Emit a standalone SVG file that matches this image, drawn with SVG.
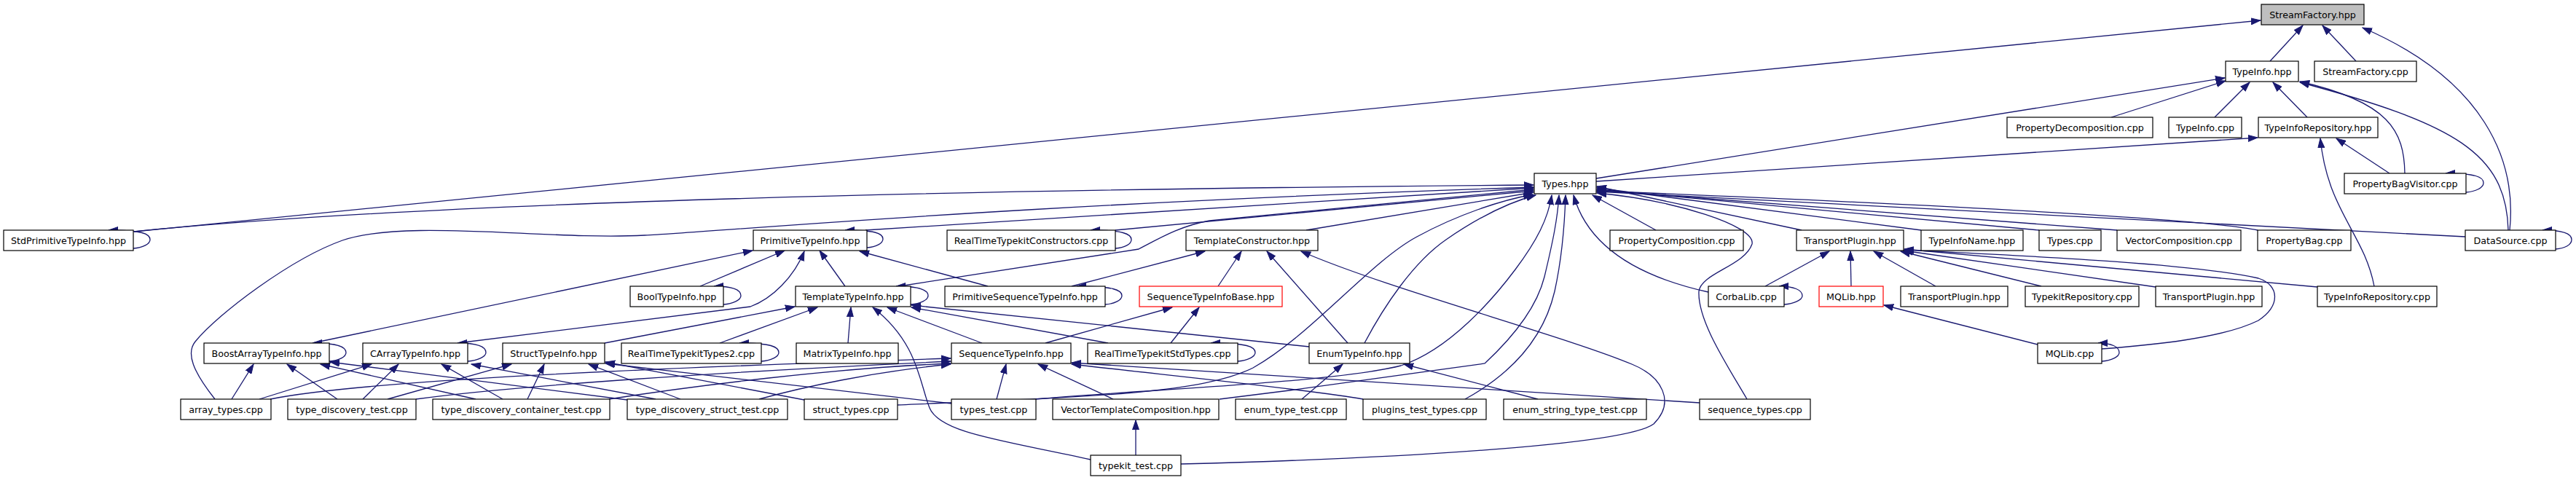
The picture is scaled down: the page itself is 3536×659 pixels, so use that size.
<svg xmlns="http://www.w3.org/2000/svg" width="3536" height="659" viewBox="0 0 3536 659">
<style>
.n rect{fill:#fff;stroke:#000;stroke-width:1.2}
.n.root rect{fill:#bfbfbf}
.n.red rect{stroke:#ff0000}
.n text{font-family:"DejaVu Sans",sans-serif;font-size:12.7px;fill:#000;text-anchor:middle}
.e path{fill:none;stroke:#191970;stroke-width:1.3;marker-end:url(#ah)}
</style>
<defs>
<marker id="ah" markerUnits="userSpaceOnUse" markerWidth="14" markerHeight="10" viewBox="0 0 14 10" refX="13" refY="5" orient="auto">
<path d="M0,0.5 L13,5 L0,9.5 z" fill="#191970" stroke="#191970" stroke-width="1"/>
</marker>
</defs>
<rect width="3536" height="659" fill="#fff"/>
<g id="edges" class="e">
<path d="M3116,84 L3161,35"/>
<path d="M3234,84 L3188,35"/>
<path d="M3445,316 C3455,220 3410,110 3243,38"/>
<path d="M184,318 L3103,28"/>
<path d="M2191,245 L3054,107"/>
<path d="M2898,161 L3055,111"/>
<path d="M3040,161 L3088,113"/>
<path d="M3167,161 L3120,113"/>
<path d="M3301,238 C3300,180 3280,140 3157,112"/>
<path d="M3443,316 C3440,210 3370,170 3157,113"/>
<path d="M2191,249 L3099,189"/>
<path d="M3280,238 L3207,190"/>
<path d="M3259,393 C3245,320 3195,290 3185,190"/>
<path d="M3385,264 C3398,263 3409,258 3409,251 C3409,243 3398,238 3357,238"/>
<path d="M3508,342 C3521,341 3530,336 3530,329 C3530,321 3520,316 3490,316"/>
<path d="M184,318 Q700,265 2105,254"/>
<path d="M295,548 C265,510 255,485 268,469 C300,430 400,355 470,330 C560,300 750,330 885,323 C1000,317 1400,280 2105,257"/>
<path d="M1188,316 L2105,258"/>
<path d="M1234,393 L1563,342 C1590,328 1620,310 1660,303 L2105,260"/>
<path d="M1531,316 L2105,262"/>
<path d="M1793,316 L2105,264"/>
<path d="M1232,556 C1500,545 1650,540 1720,505 C1800,460 1880,360 1945,325 C2000,295 2060,275 2104,267"/>
<path d="M1873,471 C1900,420 1940,360 1985,329 C2030,298 2070,278 2108,268"/>
<path d="M1421,548 C1600,533 1830,525 1923,502 C1990,480 2050,410 2080,370 C2110,330 2125,300 2130,268"/>
<path d="M1674,548 L1770,536 L2038,499 C2080,460 2110,420 2120,380 C2132,330 2138,300 2140,268"/>
<path d="M2011,548 C2080,510 2120,460 2134,400 C2145,350 2148,300 2149,268"/>
<path d="M2345,401 C2250,380 2180,340 2160,268"/>
<path d="M2273,316 L2186,268"/>
<path d="M2473,316 L2192,256"/>
<path d="M2637,316 L2192,258"/>
<path d="M2799,316 L2192,260"/>
<path d="M2906,316 L2192,261"/>
<path d="M3099,316 Q3000,295 2192,262"/>
<path d="M3384,325 L2192,263"/>
<path d="M2398,548 C2370,500 2330,440 2332,400 C2335,375 2395,365 2405,335 C2410,310 2300,275 2192,265"/>
<path d="M1190,340 C1203,339 1212,334 1212,328 C1212,320 1200,316 1160,316"/>
<path d="M429,471 L1033,344"/>
<path d="M961,393 L1077,344"/>
<path d="M628,471 L1030,421 C1060,410 1090,380 1104,345"/>
<path d="M1160,393 L1125,344"/>
<path d="M1356,393 L1180,345"/>
<path d="M993,418 C1006,417 1017,412 1017,406 C1017,398 1006,393 980,393"/>
<path d="M1250,418 C1263,417 1274,412 1274,406 C1274,398 1262,393 1230,393"/>
<path d="M1517,418 C1530,417 1540,412 1540,406 C1540,398 1528,393 1478,393"/>
<path d="M1531,341 C1544,340 1553,335 1553,329 C1553,321 1541,316 1497,316"/>
<path d="M2449,418 C2462,417 2474,412 2474,406 C2474,398 2462,393 2442,393"/>
<path d="M452,496 C465,495 475,490 475,484 C475,476 464,471 429,471"/>
<path d="M642,496 C655,495 667,490 667,484 C667,476 656,471 628,471"/>
<path d="M1045,496 C1058,495 1069,490 1069,484 C1069,476 1058,471 1015,471"/>
<path d="M1699,496 C1712,495 1723,490 1723,484 C1723,476 1712,471 1662,471"/>
<path d="M2885,496 C2898,495 2909,490 2909,484 C2909,476 2898,471 2880,471"/>
<path d="M183,341 C196,340 206,335 206,329 C206,321 195,316 149,316"/>
<path d="M1471,393 L1654,345"/>
<path d="M1672,393 L1704,345"/>
<path d="M1850,471 L1739,345"/>
<path d="M1621,637 C1900,630 2230,612 2270,582 C2300,552 2282,517 2240,500 C2150,462 1900,395 1786,345"/>
<path d="M1435,471 L1609,422"/>
<path d="M1607,471 L1646,422"/>
<path d="M830,471 L1091,421"/>
<path d="M988,471 L1122,422"/>
<path d="M1164,471 L1168,422"/>
<path d="M1348,471 L1218,422"/>
<path d="M1521,471 L1251,422"/>
<path d="M1797,476 L1251,419"/>
<path d="M1497,631 C1380,605 1290,595 1276,560 C1262,525 1260,470 1198,422"/>
<path d="M1787,548 L1843,500"/>
<path d="M2111,548 L1927,500"/>
<path d="M1368,548 L1381,500"/>
<path d="M1528,548 L1425,500"/>
<path d="M2333,553 C2000,530 1700,515 1471,498"/>
<path d="M1871,548 C1800,535 1600,515 1471,500"/>
<path d="M371,548 C500,522 900,505 1305,492"/>
<path d="M571,548 C700,530 1000,510 1305,496"/>
<path d="M836,548 C950,530 1150,505 1305,499"/>
<path d="M1042,548 C1100,532 1200,510 1305,500"/>
<path d="M1559,625 L1559,577"/>
<path d="M318,548 L348,500"/>
<path d="M463,548 L394,500"/>
<path d="M653,548 L440,500"/>
<path d="M861,549 L453,497"/>
<path d="M356,548 L510,500"/>
<path d="M498,548 L547,500"/>
<path d="M690,548 L606,500"/>
<path d="M900,548 L647,500"/>
<path d="M532,548 L702,500"/>
<path d="M724,548 L747,500"/>
<path d="M934,548 L808,500"/>
<path d="M1104,549 L831,497"/>
<path d="M1306,554 L831,499"/>
<path d="M2797,473 L2586,419"/>
<path d="M2423,393 L2511,345"/>
<path d="M2541,393 L2540,345"/>
<path d="M2657,393 L2572,345"/>
<path d="M2802,393 L2609,345"/>
<path d="M2959,394 L2613,344"/>
<path d="M3181,394 L2614,342"/>
<path d="M2885,479 C2950,474 3050,465 3100,440 C3130,420 3130,392 3100,382 C3000,360 2750,350 2614,343"/>
</g>
<g id="n_StreamFactory_hpp" class="n root"><rect x="3104" y="6" width="141" height="28"/><text x="3174.5" y="25">StreamFactory.hpp</text></g>
<g id="n_TypeInfo_hpp" class="n"><rect x="3055" y="84" width="100" height="28"/><text x="3105" y="103">TypeInfo.hpp</text></g>
<g id="n_StreamFactory_cpp" class="n"><rect x="3177" y="84" width="140" height="28"/><text x="3247" y="103">StreamFactory.cpp</text></g>
<g id="n_PropertyDecomposition_cpp" class="n"><rect x="2755" y="161" width="200" height="28"/><text x="2855" y="180">PropertyDecomposition.cpp</text></g>
<g id="n_TypeInfo_cpp" class="n"><rect x="2977" y="161" width="100" height="28"/><text x="3027" y="180">TypeInfo.cpp</text></g>
<g id="n_TypeInfoRepository_hpp" class="n"><rect x="3100" y="161" width="164" height="28"/><text x="3182" y="180">TypeInfoRepository.hpp</text></g>
<g id="n_Types_hpp" class="n"><rect x="2106" y="238" width="85" height="28"/><text x="2148.5" y="257">Types.hpp</text></g>
<g id="n_PropertyBagVisitor_cpp" class="n"><rect x="3218" y="238" width="167" height="28"/><text x="3301.5" y="257">PropertyBagVisitor.cpp</text></g>
<g id="n_StdPrimitiveTypeInfo_hpp" class="n"><rect x="5" y="316" width="178" height="28"/><text x="94" y="335">StdPrimitiveTypeInfo.hpp</text></g>
<g id="n_PrimitiveTypeInfo_hpp" class="n"><rect x="1034" y="316" width="156" height="28"/><text x="1112" y="335">PrimitiveTypeInfo.hpp</text></g>
<g id="n_RealTimeTypekitConstructors_cpp" class="n"><rect x="1300" y="316" width="231" height="28"/><text x="1415.5" y="335">RealTimeTypekitConstructors.cpp</text></g>
<g id="n_TemplateConstructor_hpp" class="n"><rect x="1628" y="316" width="181" height="28"/><text x="1718.5" y="335">TemplateConstructor.hpp</text></g>
<g id="n_PropertyComposition_cpp" class="n"><rect x="2210" y="316" width="183" height="28"/><text x="2301.5" y="335">PropertyComposition.cpp</text></g>
<g id="n_TransportPlugin_hpp_1" class="n"><rect x="2466" y="316" width="147" height="28"/><text x="2539.5" y="335">TransportPlugin.hpp</text></g>
<g id="n_TypeInfoName_hpp" class="n"><rect x="2637" y="316" width="140" height="28"/><text x="2707" y="335">TypeInfoName.hpp</text></g>
<g id="n_Types_cpp" class="n"><rect x="2799" y="316" width="85" height="28"/><text x="2841.5" y="335">Types.cpp</text></g>
<g id="n_VectorComposition_cpp" class="n"><rect x="2906" y="316" width="170" height="28"/><text x="2991" y="335">VectorComposition.cpp</text></g>
<g id="n_PropertyBag_cpp" class="n"><rect x="3099" y="316" width="128" height="28"/><text x="3163" y="335">PropertyBag.cpp</text></g>
<g id="n_DataSource_cpp" class="n"><rect x="3384" y="316" width="124" height="28"/><text x="3446" y="335">DataSource.cpp</text></g>
<g id="n_BoolTypeInfo_hpp" class="n"><rect x="865" y="393" width="128" height="28"/><text x="929" y="412">BoolTypeInfo.hpp</text></g>
<g id="n_TemplateTypeInfo_hpp" class="n"><rect x="1092" y="393" width="158" height="28"/><text x="1171" y="412">TemplateTypeInfo.hpp</text></g>
<g id="n_PrimitiveSequenceTypeInfo_hpp" class="n"><rect x="1297" y="393" width="220" height="28"/><text x="1407" y="412">PrimitiveSequenceTypeInfo.hpp</text></g>
<g id="n_SequenceTypeInfoBase_hpp" class="n red"><rect x="1564" y="393" width="196" height="28"/><text x="1662" y="412">SequenceTypeInfoBase.hpp</text></g>
<g id="n_CorbaLib_cpp" class="n"><rect x="2345" y="393" width="104" height="28"/><text x="2397" y="412">CorbaLib.cpp</text></g>
<g id="n_MQLib_hpp" class="n red"><rect x="2497" y="393" width="88" height="28"/><text x="2541" y="412">MQLib.hpp</text></g>
<g id="n_TransportPlugin_hpp_2" class="n"><rect x="2609" y="393" width="147" height="28"/><text x="2682.5" y="412">TransportPlugin.hpp</text></g>
<g id="n_TypekitRepository_cpp" class="n"><rect x="2780" y="393" width="156" height="28"/><text x="2858" y="412">TypekitRepository.cpp</text></g>
<g id="n_TransportPlugin_hpp_3" class="n"><rect x="2959" y="393" width="146" height="28"/><text x="3032" y="412">TransportPlugin.hpp</text></g>
<g id="n_TypeInfoRepository_cpp" class="n"><rect x="3181" y="393" width="164" height="28"/><text x="3263" y="412">TypeInfoRepository.cpp</text></g>
<g id="n_BoostArrayTypeInfo_hpp" class="n"><rect x="280" y="471" width="172" height="28"/><text x="366" y="490">BoostArrayTypeInfo.hpp</text></g>
<g id="n_CArrayTypeInfo_hpp" class="n"><rect x="498" y="471" width="144" height="28"/><text x="570" y="490">CArrayTypeInfo.hpp</text></g>
<g id="n_StructTypeInfo_hpp" class="n"><rect x="690" y="471" width="140" height="28"/><text x="760" y="490">StructTypeInfo.hpp</text></g>
<g id="n_RealTimeTypekitTypes2_cpp" class="n"><rect x="853" y="471" width="192" height="28"/><text x="949" y="490">RealTimeTypekitTypes2.cpp</text></g>
<g id="n_MatrixTypeInfo_hpp" class="n"><rect x="1093" y="471" width="140" height="28"/><text x="1163" y="490">MatrixTypeInfo.hpp</text></g>
<g id="n_SequenceTypeInfo_hpp" class="n"><rect x="1306" y="471" width="164" height="28"/><text x="1388" y="490">SequenceTypeInfo.hpp</text></g>
<g id="n_RealTimeTypekitStdTypes_cpp" class="n"><rect x="1493" y="471" width="206" height="28"/><text x="1596" y="490">RealTimeTypekitStdTypes.cpp</text></g>
<g id="n_EnumTypeInfo_hpp" class="n"><rect x="1797" y="471" width="138" height="28"/><text x="1866" y="490">EnumTypeInfo.hpp</text></g>
<g id="n_MQLib_cpp" class="n"><rect x="2797" y="471" width="88" height="28"/><text x="2841" y="490">MQLib.cpp</text></g>
<g id="n_array_types_cpp" class="n"><rect x="248" y="548" width="124" height="28"/><text x="310" y="567">array_types.cpp</text></g>
<g id="n_type_discovery_test_cpp" class="n"><rect x="395" y="548" width="176" height="28"/><text x="483" y="567">type_discovery_test.cpp</text></g>
<g id="n_type_discovery_container_test_cpp" class="n"><rect x="594" y="548" width="243" height="28"/><text x="715.5" y="567">type_discovery_container_test.cpp</text></g>
<g id="n_type_discovery_struct_test_cpp" class="n"><rect x="861" y="548" width="220" height="28"/><text x="971" y="567">type_discovery_struct_test.cpp</text></g>
<g id="n_struct_types_cpp" class="n"><rect x="1104" y="548" width="128" height="28"/><text x="1168" y="567">struct_types.cpp</text></g>
<g id="n_types_test_cpp" class="n"><rect x="1306" y="548" width="116" height="28"/><text x="1364" y="567">types_test.cpp</text></g>
<g id="n_VectorTemplateComposition_hpp" class="n"><rect x="1445" y="548" width="228" height="28"/><text x="1559" y="567">VectorTemplateComposition.hpp</text></g>
<g id="n_enum_type_test_cpp" class="n"><rect x="1696" y="548" width="152" height="28"/><text x="1772" y="567">enum_type_test.cpp</text></g>
<g id="n_plugins_test_types_cpp" class="n"><rect x="1871" y="548" width="169" height="28"/><text x="1955.5" y="567">plugins_test_types.cpp</text></g>
<g id="n_enum_string_type_test_cpp" class="n"><rect x="2064" y="548" width="196" height="28"/><text x="2162" y="567">enum_string_type_test.cpp</text></g>
<g id="n_sequence_types_cpp" class="n"><rect x="2333" y="548" width="152" height="28"/><text x="2409" y="567">sequence_types.cpp</text></g>
<g id="n_typekit_test_cpp" class="n"><rect x="1497" y="625" width="124" height="28"/><text x="1559" y="644">typekit_test.cpp</text></g>
</svg>
